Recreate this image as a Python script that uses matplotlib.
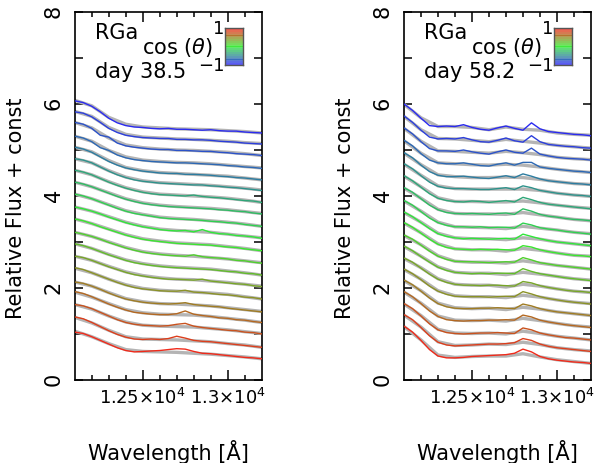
import numpy as np
import matplotlib
matplotlib.use('Agg')
import matplotlib.pyplot as plt
from matplotlib.colors import LinearSegmentedColormap
from matplotlib.ticker import FixedLocator, FuncFormatter

plt.rcParams['font.family'] = ['DejaVu Sans']
plt.rcParams['font.size'] = 15
plt.rcParams['mathtext.fontset'] = 'dejavusans'

# wavelength grids [A]
wl_col = [12100, 12150, 12200, 12250, 12300, 12350, 12400, 12450, 12500, 12550, 12600, 12650,
          12700, 12750, 12800, 12850, 12900, 12950, 13000, 13050, 13100, 13150, 13200]
wl_grey = [12100, 12200, 12300, 12400, 12500, 12600, 12700, 12800, 12900, 13000, 13100, 13200]

# vertical constant of each spectrum (bottom = cos 1 ... top = cos -1)
off_left = [0.46, 0.71, 1.00, 1.25, 1.48, 1.76, 2.03, 2.28, 2.54, 2.81,
            3.08, 3.34, 3.61, 3.86, 4.12, 4.35, 4.60, 4.88, 5.13, 5.37]
off_right = [0.36, 0.62, 0.87, 1.14, 1.40, 1.65, 1.90, 2.16, 2.41, 2.68,
             2.92, 3.17, 3.46, 3.72, 3.99, 4.24, 4.51, 4.78, 5.04, 5.31]

# relative flux above the constant, in units of 0.01
left_col = [
    [58, 55, 48, 40, 32, 24, 18, 15, 16, 17, 18, 20, 22, 21, 16, 12, 11, 9, 7, 5, 3, 2, 0],
    [66, 62, 54, 45, 36, 28, 22, 18, 17, 18, 17, 19, 24, 20, 15, 13, 12, 10, 8, 6, 4, 2, 0],
    [64, 61, 55, 47, 39, 31, 25, 21, 19, 18, 17, 18, 21, 23, 17, 14, 12, 10, 8, 7, 4, 3, 0],
    [67, 63, 56, 48, 40, 33, 27, 22, 20, 18, 17, 17, 19, 25, 18, 15, 13, 10, 9, 6, 5, 2, 0],
    [65, 62, 56, 49, 41, 34, 28, 24, 21, 19, 18, 17, 18, 20, 16, 14, 12, 11, 8, 6, 4, 2, 0],
    [68, 64, 57, 50, 43, 36, 30, 25, 22, 20, 18, 17, 17, 19, 15, 14, 12, 10, 9, 7, 4, 3, 0],
    [66, 63, 57, 50, 43, 37, 31, 26, 23, 20, 18, 16, 16, 15, 14, 16, 12, 10, 8, 6, 5, 2, 0],
    [68, 64, 58, 51, 44, 38, 32, 27, 24, 21, 19, 17, 16, 15, 14, 13, 12, 10, 8, 7, 4, 3, 0],
    [67, 63, 58, 52, 45, 39, 33, 28, 24, 21, 19, 17, 16, 15, 18, 14, 12, 11, 9, 6, 5, 2, 0],
    [69, 65, 59, 52, 46, 40, 34, 29, 25, 22, 20, 18, 16, 15, 14, 13, 12, 10, 8, 7, 4, 2, 0],
    [68, 64, 59, 53, 46, 40, 34, 29, 25, 22, 19, 17, 16, 17, 14, 19, 13, 10, 9, 6, 5, 3, 0],
    [70, 66, 60, 53, 46, 39, 33, 28, 25, 22, 19, 17, 16, 15, 14, 13, 11, 10, 8, 7, 4, 2, 0],
    [69, 65, 59, 52, 45, 38, 32, 27, 23, 20, 18, 16, 15, 14, 13, 12, 11, 9, 8, 6, 5, 2, 0],
    [70, 66, 60, 52, 44, 37, 31, 26, 22, 19, 17, 16, 15, 14, 16, 13, 11, 10, 8, 6, 4, 3, 0],
    [69, 66, 60, 51, 42, 34, 28, 23, 20, 18, 16, 15, 14, 13, 12, 12, 10, 9, 7, 6, 4, 2, 0],
    [71, 67, 60, 50, 40, 32, 26, 22, 19, 17, 15, 14, 14, 12, 12, 11, 10, 8, 7, 5, 4, 2, 0],
    [70, 66, 58, 45, 39, 29, 23, 19, 17, 15, 14, 13, 12, 12, 11, 10, 9, 8, 6, 5, 3, 2, 0],
    [72, 68, 59, 44, 40, 27, 21, 18, 16, 14, 13, 13, 11, 11, 10, 9, 9, 7, 6, 4, 3, 2, 0],
    [70, 67, 59, 47, 34, 25, 19, 16, 14, 13, 12, 12, 10, 10, 9, 9, 8, 6, 5, 4, 2, 1, 0],
    [70, 66, 58, 46, 32, 22, 16, 13, 12, 10, 9, 10, 8, 8, 7, 6, 7, 5, 4, 4, 2, 1, 0],
]
left_grey = [
    [60, 48, 33, 20, 16, 15, 14, 12, 10, 7, 4, 0],
    [65, 53, 37, 23, 18, 17, 16, 14, 12, 8, 5, 0],
    [64, 54, 39, 26, 19, 17, 16, 15, 12, 9, 5, 1],
    [66, 55, 41, 28, 21, 18, 17, 16, 13, 9, 5, 0],
    [65, 56, 42, 29, 22, 18, 17, 15, 13, 9, 5, 1],
    [67, 57, 43, 31, 23, 19, 17, 15, 13, 10, 5, 0],
    [66, 57, 44, 32, 24, 19, 16, 15, 12, 9, 5, 1],
    [68, 58, 45, 33, 25, 20, 17, 15, 13, 9, 5, 0],
    [67, 58, 46, 34, 25, 20, 17, 15, 12, 9, 5, 1],
    [69, 59, 47, 35, 26, 21, 17, 15, 13, 9, 5, 0],
    [68, 59, 47, 35, 26, 20, 17, 15, 13, 9, 5, 1],
    [70, 60, 47, 34, 26, 20, 17, 15, 12, 9, 5, 0],
    [69, 59, 46, 33, 24, 19, 16, 14, 12, 9, 5, 1],
    [70, 60, 45, 32, 23, 18, 16, 14, 12, 9, 5, 0],
    [69, 60, 43, 29, 21, 17, 15, 13, 11, 8, 5, 1],
    [71, 61, 42, 27, 20, 16, 14, 12, 10, 8, 4, 0],
    [70, 59, 39, 25, 18, 15, 13, 12, 10, 7, 4, 1],
    [72, 60, 38, 23, 17, 14, 12, 11, 9, 7, 4, 0],
    [71, 60, 36, 21, 15, 13, 11, 10, 8, 6, 3, 1],
    [71, 59, 34, 19, 13, 11, 9, 8, 7, 5, 3, 0],
]
right_col = [
    [81, 68, 50, 30, 16, 12, 12, 13, 15, 16, 17, 18, 19, 22, 31, 25, 15, 10, 7, 5, 3, 2, 0],
    [80, 69, 52, 34, 20, 14, 12, 13, 14, 15, 16, 16, 17, 19, 28, 24, 16, 11, 8, 6, 4, 2, 0],
    [79, 68, 52, 35, 22, 16, 14, 13, 14, 15, 15, 16, 15, 14, 26, 22, 15, 11, 8, 5, 4, 2, 0],
    [78, 67, 52, 36, 24, 17, 15, 14, 15, 15, 16, 16, 17, 16, 27, 23, 16, 12, 9, 6, 4, 2, 0],
    [77, 67, 53, 38, 26, 19, 16, 15, 15, 16, 16, 17, 16, 15, 25, 21, 15, 11, 8, 6, 4, 2, 0],
    [76, 66, 53, 39, 28, 21, 17, 16, 16, 16, 15, 16, 17, 16, 27, 22, 16, 12, 9, 6, 4, 2, 0],
    [75, 66, 53, 40, 29, 22, 18, 16, 16, 15, 16, 16, 15, 14, 24, 21, 15, 11, 8, 5, 3, 2, 0],
    [75, 65, 52, 40, 29, 22, 18, 16, 15, 16, 15, 16, 16, 15, 26, 20, 15, 12, 9, 6, 4, 2, 0],
    [74, 65, 52, 39, 28, 21, 17, 16, 16, 15, 14, 15, 16, 15, 25, 20, 14, 11, 8, 6, 4, 2, 0],
    [74, 64, 51, 38, 27, 20, 17, 16, 15, 16, 15, 16, 15, 14, 24, 21, 15, 11, 8, 5, 3, 2, 0],
    [73, 63, 50, 37, 26, 20, 17, 15, 16, 15, 14, 15, 16, 14, 25, 20, 15, 11, 8, 6, 4, 2, 0],
    [73, 63, 49, 35, 25, 19, 16, 16, 15, 16, 14, 15, 15, 13, 24, 20, 14, 11, 9, 6, 4, 2, 0],
    [72, 62, 48, 34, 24, 18, 16, 15, 16, 15, 14, 16, 17, 14, 26, 21, 14, 10, 8, 5, 3, 2, 0],
    [72, 61, 47, 33, 23, 18, 16, 15, 17, 16, 14, 16, 18, 15, 25, 20, 14, 10, 8, 6, 4, 2, 0],
    [71, 60, 45, 31, 22, 18, 17, 17, 16, 15, 15, 17, 19, 15, 23, 19, 13, 10, 7, 5, 3, 2, 0],
    [70, 59, 43, 29, 21, 18, 18, 19, 17, 15, 14, 17, 20, 16, 24, 19, 13, 9, 7, 5, 3, 2, 0],
    [70, 58, 41, 27, 21, 19, 19, 21, 18, 15, 14, 18, 21, 16, 22, 22, 12, 9, 7, 5, 3, 2, 0],
    [70, 57, 40, 25, 20, 20, 19, 22, 18, 15, 13, 18, 22, 17, 15, 26, 13, 9, 6, 4, 3, 2, 0],
    [70, 56, 39, 24, 20, 21, 20, 23, 18, 14, 13, 17, 22, 16, 13, 27, 14, 8, 6, 4, 3, 1, 0],
    [69, 55, 38, 22, 20, 21, 20, 24, 18, 14, 12, 17, 21, 16, 12, 28, 15, 9, 7, 5, 3, 2, 0],
]
right_grey = [
    [80, 51, 18, 13, 15, 16, 16, 21, 14, 8, 4, 0],
    [79, 53, 21, 13, 14, 16, 15, 20, 15, 8, 4, 1],
    [78, 53, 23, 15, 14, 15, 13, 19, 14, 8, 4, 0],
    [77, 53, 25, 16, 15, 16, 14, 20, 15, 9, 4, 1],
    [76, 54, 27, 17, 15, 16, 13, 18, 14, 8, 4, 0],
    [75, 54, 29, 18, 16, 16, 14, 19, 15, 9, 4, 1],
    [74, 54, 30, 18, 16, 16, 12, 18, 14, 8, 3, 0],
    [74, 53, 30, 18, 16, 16, 13, 18, 14, 9, 4, 1],
    [73, 53, 29, 17, 15, 15, 13, 18, 13, 8, 4, 0],
    [73, 52, 28, 17, 15, 15, 12, 18, 14, 8, 3, 1],
    [72, 51, 27, 17, 15, 15, 13, 17, 14, 8, 4, 0],
    [72, 50, 26, 16, 15, 14, 12, 17, 13, 9, 4, 1],
    [71, 49, 25, 16, 15, 15, 14, 18, 13, 8, 3, 0],
    [71, 48, 24, 16, 16, 15, 15, 17, 13, 8, 4, 1],
    [70, 46, 23, 17, 16, 16, 16, 16, 13, 7, 3, 0],
    [69, 44, 22, 18, 16, 16, 17, 16, 12, 7, 3, 1],
    [69, 42, 21, 19, 17, 16, 18, 16, 12, 7, 3, 0],
    [69, 41, 20, 19, 17, 15, 19, 16, 12, 6, 3, 1],
    [69, 40, 21, 20, 17, 14, 19, 15, 11, 6, 3, 0],
    [68, 39, 20, 20, 18, 13, 19, 14, 12, 6, 3, 1],
]

panels = [('day 38.5', off_left, left_col, left_grey),
          ('day 58.2', off_right, right_col, right_grey)]

cmap = LinearSegmentedColormap.from_list('rgb', ['#f02a1a', '#30f030', '#2a2af0'])
nspec = len(off_left)
colors = [cmap(i / (nspec - 1)) for i in range(nspec)]


def wl_label(v, pos):
    if v == 12500:
        return r'1.25$\times$10$^{4}$'
    if v == 13000:
        return r'1.3$\times$10$^{4}$'
    return ''


fig = plt.figure(figsize=(6.03, 4.64), dpi=100)
lefts = [0.124, 0.670]

for (day, offs, col, grey), x0 in zip(panels, lefts):
    ax = fig.add_axes([x0, 0.179, 0.310, 0.793])
    for i in range(nspec):
        ax.plot(wl_grey, offs[i] + np.array(grey[i]) / 100.0, color='#b4b4b4', lw=2.4, zorder=2)
        ax.plot(wl_col, offs[i] + np.array(col[i]) / 100.0, color=colors[i], lw=1.0, zorder=3)

    ax.set_xlim(12100, 13200)
    ax.set_ylim(0, 8)
    ax.xaxis.set_major_locator(FixedLocator([12500, 13000]))
    ax.xaxis.set_minor_locator(FixedLocator(np.arange(12200, 13200, 100)))
    ax.xaxis.set_major_formatter(FuncFormatter(wl_label))
    ax.yaxis.set_major_locator(FixedLocator([0, 2, 4, 6, 8]))
    ax.yaxis.set_minor_locator(FixedLocator([1, 3, 5, 7]))
    ax.tick_params(which='both', direction='in', top=True, right=True, width=1.1)
    ax.tick_params(axis='x', which='major', length=7, pad=5, labelsize=13)
    ax.tick_params(axis='x', which='minor', length=3.5)
    ax.tick_params(axis='y', which='both', length=6, pad=8)
    ax.tick_params(axis='y', labelrotation=90)
    for s in ax.spines.values():
        s.set_linewidth(1.2)

    ax.set_xlabel('Wavelength [Å]')
    ax.xaxis.set_label_coords(0.5, -0.16)
    ax.set_ylabel('Relative Flux + const')
    ax.yaxis.set_label_coords(-0.26, 0.47)

    ax.text(0.107, 0.946, 'RGa', transform=ax.transAxes, ha='left', va='center')
    ax.text(0.107, 0.840, day, transform=ax.transAxes, ha='left', va='center')
    ax.text(0.36, 0.905, r'cos ($\theta$)', transform=ax.transAxes, ha='left', va='center')
    ax.text(0.80, 0.956, '1', transform=ax.transAxes, ha='right', va='center', fontsize=13)
    ax.text(0.80, 0.856, '−1', transform=ax.transAxes, ha='right', va='center', fontsize=13)

    # small colour key
    cax = ax.inset_axes([0.802, 0.856, 0.096, 0.100])
    for i in range(nspec):
        cax.axhline(nspec - 1 - i, color=colors[nspec - 1 - i], lw=1.1)
    cax.set_ylim(nspec - 0.5, -0.5)
    cax.set_xlim(0, 1)
    cax.set_xticks([])
    cax.set_yticks([])
    for s in cax.spines.values():
        s.set_edgecolor('#555555')
        s.set_linewidth(1.0)

fig.savefig('out.png', dpi=100)
